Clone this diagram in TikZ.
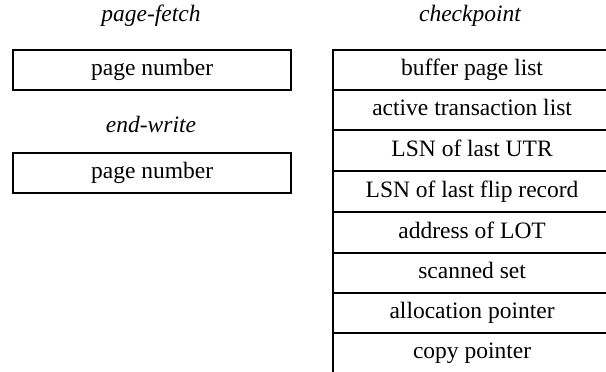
\documentclass[tikz,border=0pt]{standalone}
\usepackage{fontspec}
\setmainfont{Liberation Serif}
\begin{document}
\begin{tikzpicture}[x=1pt,y=-1pt,
  font=\fontsize{23.5}{28}\selectfont,
  every node/.style={text height=16pt, text depth=5pt},
  field/.style={draw=black, line width=2.2pt, rectangle, inner sep=0pt, anchor=north west, text height=, text depth=},
  head/.style={font=\fontsize{23.5}{28}\selectfont\itshape}]
\clip (0,0) rectangle (606,372);
% left column
\node[head] (pf) at (151,16) {page-fetch};
\node[field, minimum width=278pt, minimum height=40pt] (pn1) at (12,49) {};
\node (pn1t) at (pn1.center) {page number};
\node[head] (ew) at (151,127) {end-write};
\node[field, minimum width=278pt, minimum height=40pt] (pn2) at (12,152) {};
\node (pn2t) at (pn2.center) {page number};
% right column
\node[head] (cp) at (470,16) {checkpoint};
\node[field, minimum width=278pt, minimum height=40pt] (r1) at (332,49) {};
\node[field, minimum width=278pt, minimum height=40pt] (r2) at (332,89) {};
\node[field, minimum width=278pt, minimum height=41pt] (r3) at (332,129) {};
\node[field, minimum width=278pt, minimum height=41pt] (r4) at (332,170) {};
\node[field, minimum width=278pt, minimum height=41pt] (r5) at (332,211) {};
\node[field, minimum width=278pt, minimum height=40pt] (r6) at (332,252) {};
\node[field, minimum width=278pt, minimum height=40pt] (r7) at (332,292) {};
\node[field, minimum width=278pt, minimum height=40pt] (r8) at (332,332) {};
\node (t1) at (r1.center) {buffer page list};
\node (t2) at (r2.center) {active transaction list};
\node (t3) at (r3.center) {LSN of last UTR};
\node (t4) at (r4.center) {LSN of last flip record};
\node (t5) at (r5.center) {address of LOT};
\node (t6) at (r6.center) {scanned set};
\node (t7) at (r7.center) {allocation pointer};
\node (t8) at (r8.center) {copy pointer};
\end{tikzpicture}
\end{document}
